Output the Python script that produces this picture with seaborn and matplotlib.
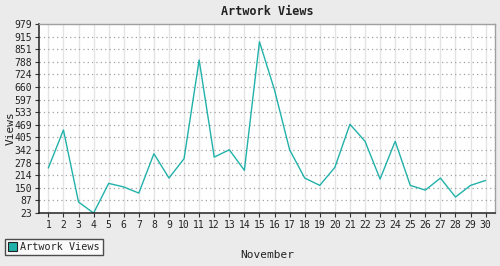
import matplotlib
matplotlib.use("Agg")
import matplotlib.pyplot as plt
import seaborn as sns
import pandas as pd
from matplotlib.patches import Patch

days = list(range(1, 31))
views = [251, 443, 79, 23, 173, 155, 124, 323, 200, 298,
         797, 306, 343, 239, 889, 645, 343, 200, 163, 254,
         472, 386, 195, 386, 163, 139, 200, 104, 163, 188]
yticks = [23, 87, 150, 214, 278, 342, 405, 469, 533, 597, 660, 724, 788, 851, 915, 979]
series_name = "Artwork Views"

df = pd.DataFrame({"day": days, "views": views})

sns.set_theme(style="white")
plt.rcParams["font.family"] = ["DejaVu Sans Mono"]

fig = plt.figure(figsize=(5, 2.66), dpi=100, facecolor="#ebebeb")
ax = fig.add_axes([0.078, 0.199, 0.912, 0.711])
ax.set_facecolor("white")

color = "#20b2aa"
sns.lineplot(data=df, x="day", y="views", ax=ax, color=color, linewidth=1.0)

ax.set_xlim(1 - 0.62, 30 + 0.62)
ax.set_ylim(23, 979)
ax.set_xticks(days)
ax.set_xticklabels([str(d) for d in days], fontsize=7)
ax.set_yticks(yticks)
ax.set_yticklabels([str(v) for v in yticks], fontsize=7)

for d in days:
    ax.axvline(d, color="#e4e4e4", linewidth=1.0, zorder=0)
for v in yticks[1:-1]:
    ax.axhline(v, color="#a0a0a0", linewidth=0.9, linestyle=(0, (1, 2.5)), zorder=0)

for side in ["left", "bottom"]:
    ax.spines[side].set_color("#222222")
    ax.spines[side].set_linewidth(1.1)
for side in ["top", "right"]:
    ax.spines[side].set_color("#a0a0a0")
    ax.spines[side].set_linewidth(1.0)

ax.tick_params(axis="both", which="both", length=3, width=0.8, color="#333333",
               labelcolor="#222222", pad=2, direction="out")
ax.tick_params(axis="x", bottom=True)
ax.tick_params(axis="y", left=True)

ax.set_xlabel("")
ax.set_ylabel("")
fig.text(0.534, 0.04, "November", ha="center", va="center", fontsize=8, color="#222222")
fig.text(0.022, 0.52, "Views", ha="center", va="center", rotation=90, fontsize=8, color="#222222")
fig.text(0.534, 0.955, "Artwork Views", ha="center", va="center", fontsize=8.5,
         fontweight="bold", color="#222222")

handle = Patch(facecolor=color, edgecolor="#222222", linewidth=0.8)
leg = fig.legend([handle], [series_name], loc="lower left", bbox_to_anchor=(0.01, 0.04),
                 fontsize=7.3, frameon=True, fancybox=False, handlelength=0.9, handleheight=1.0,
                 handletextpad=0.3, borderpad=0.3, borderaxespad=0)
leg.get_frame().set_edgecolor("#222222")
leg.get_frame().set_linewidth(1.0)
leg.get_frame().set_facecolor("white")

fig.savefig("out.png", dpi=100, facecolor=fig.get_facecolor())
